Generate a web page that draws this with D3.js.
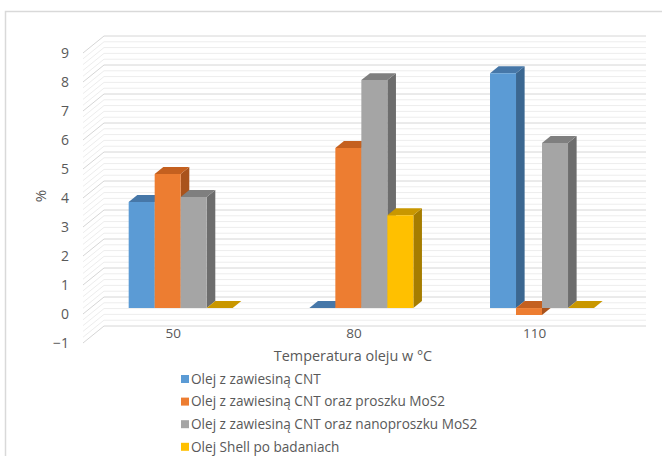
<!DOCTYPE html>
<html>
<head>
<meta charset="utf-8">
<script src="https://cdn.jsdelivr.net/npm/d3@7"></script>
<style>
  html, body { margin: 0; padding: 0; background: #ffffff; }
  text { font-family: "Open Sans", "Liberation Sans", sans-serif; fill: #595959; }
</style>
</head>
<body>
<script>
// ---------------- DATA ----------------
const categories = ["50", "80", "110"];
const seriesNames = [
  "Olej z zawiesiną CNT",
  "Olej z zawiesiną CNT oraz proszku MoS2",
  "Olej z zawiesiną CNT oraz nanoproszku MoS2",
  "Olej Shell po badaniach"
];
const cnt = [3.66, 0, 8.1];
const cntProszek = [4.62, 5.52, -0.24];
const cntNano = [3.83, 7.86, 5.69];
const shell = [0, 3.2, 0];
const yTicks = [-1, 0, 1, 2, 3, 4, 5, 6, 7, 8, 9];
const xTitle = "Temperatura oleju w °C";
const yTitle = "%";

const seriesValues = [cnt, cntProszek, cntNano, shell];
const frontColors = ["#5B9BD5", "#ED7D31", "#A5A5A5", "#FFC000"];
const topColors   = ["#4677A8", "#C4601F", "#7F7F7F", "#C99700"];
const sideColors  = ["#3B6791", "#A9531C", "#6D6D6D", "#A67D00"];

// ---------------- LAYOUT ----------------
const W = 662, H = 456;
const svg = d3.select("body").append("svg").attr("width", W).attr("height", H);

// outer chart border (extends beyond the window on right/bottom)
svg.append("rect").attr("x", 5.5).attr("y", 11.5).attr("width", 700).attr("height", 500)
  .attr("fill", "none").attr("stroke", "#D9D9D9").attr("stroke-width", 1.5);

const x0 = d3.scaleBand().domain(categories).range([83, 625]);
const clusterWidth = 104;
const x1 = d3.scaleBand().domain(seriesNames).range([0, clusterWidth]);
const clusterOffset = (x0.bandwidth() - clusterWidth) / 2;
const y = d3.scaleLinear().domain([-1, 9]).range([343, 53]);

const DX = 21, DY = -17;     // full depth projection
const d0 = 0.35, d1 = 0.76;  // bar front / back depth
const P = (x, v, d) => [x + DX * d, y(v) + DY * d];

// ---------------- GRIDLINES ----------------
const grid = svg.append("g");
const minorVals = d3.range(-10, 91, 2).map(k => k / 10).filter(v => !yTicks.includes(v));
function gridLine(v, color) {
  const a = P(x0.range()[0], v, 0), b = P(x0.range()[0], v, 1), c = P(x0.range()[1], v, 1);
  grid.append("path")
    .attr("d", d3.line()([a, b, c]))
    .attr("fill", "none").attr("stroke", color).attr("stroke-width", 1);
}
minorVals.forEach(v => gridLine(v, "#EDEDED"));
yTicks.forEach(v => gridLine(v, "#D6D6D6"));

// ---------------- BARS ----------------
const bars = svg.append("g");
const poly = pts => d3.line()(pts) + "Z";
categories.forEach((cat, i) => {
  seriesNames.forEach((s, j) => {
    const v = seriesValues[j][i];
    const xl = x0(cat) + clusterOffset + x1(s);
    const xr = xl + x1.bandwidth();
    const vt = Math.max(0, v), vb = Math.min(0, v);
    bars.append("path").attr("d", poly([P(xr, vt, d0), P(xr, vt, d1), P(xr, vb, d1), P(xr, vb, d0)]))
      .attr("fill", sideColors[j]);
    bars.append("path").attr("d", poly([P(xl, vt, d0), P(xr, vt, d0), P(xr, vt, d1), P(xl, vt, d1)]))
      .attr("fill", topColors[j]);
    if (vt !== vb) {
      bars.append("path").attr("d", poly([P(xl, vt, d0), P(xr, vt, d0), P(xr, vb, d0), P(xl, vb, d0)]))
        .attr("fill", frontColors[j]);
    }
  });
});

// ---------------- AXES ----------------
const yAxis = svg.append("g").attr("transform", "translate(83,0)")
  .call(d3.axisLeft(y).tickValues(yTicks).tickSize(0).tickPadding(14).tickFormat(d3.format("d")));
yAxis.select(".domain").remove();
yAxis.selectAll("text").style("font-size", "14px").attr("fill", "#595959");

const xAxis = svg.append("g").attr("transform", "translate(0,314)")
  .call(d3.axisBottom(x0).tickSize(0).tickPadding(14));
xAxis.select(".domain").remove();
xAxis.selectAll("text").style("font-size", "13.5px").attr("fill", "#595959");

svg.append("text").attr("x", 353).attr("y", 356).attr("dy", "0.35em")
  .attr("text-anchor", "middle").style("font-size", "14.4px").text(xTitle);

svg.append("text").attr("transform", "translate(41,196) rotate(-90)").attr("dy", "0.35em")
  .attr("text-anchor", "middle").style("font-size", "15px").text(yTitle);

// ---------------- LEGEND ----------------
const legend = svg.append("g");
seriesNames.forEach((s, j) => {
  const cy = 379 + j * 22.6;
  legend.append("rect").attr("x", 181).attr("y", cy - 4).attr("width", 8).attr("height", 8)
    .attr("fill", frontColors[j]);
  legend.append("text").attr("x", 191).attr("y", cy).attr("dy", "0.35em")
    .style("font-size", "13.6px").text(s);
});
</script>
</body>
</html>
